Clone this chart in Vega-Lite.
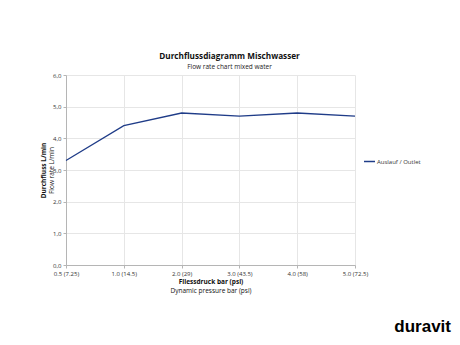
{
  "$schema": "https://vega.github.io/schema/vega-lite/v6.json",
  "background": "white",
  "padding": {"left": 40, "top": 52, "right": 10, "bottom": 8},
  "title": {"text": "duravit", "orient": "bottom", "anchor": "end", "font": "Liberation Sans", "fontSize": 17, "fontWeight": 900, "color": "#000000", "offset": 25, "dx": 30},
  "config": {
    "font": "Open Sans",
    "view": {"stroke": null},
    "axis": {"labelFont": "Open Sans", "titleFont": "Open Sans", "labelFontSize": 6, "titleFontSize": 6.5, "labelColor": "#333333", "titleColor": "#111111", "domainColor": "#b5b5b5", "tickColor": "#b5b5b5", "gridColor": "#e6e6e6", "tickSize": 3}
  },
  "vconcat": [
    {
      "width": 289,
      "height": 190,
      "title": {"text": "Durchflussdiagramm Mischwasser", "subtitle": "Flow rate chart mixed water", "frame": "group", "anchor": "middle", "dx": 19, "font": "Open Sans", "fontSize": 8.2, "fontWeight": "bold", "color": "#111111", "subtitleFont": "Open Sans", "subtitleFontSize": 6.5, "subtitleColor": "#222222", "subtitlePadding": 2, "offset": 1},
      "data": {"values": [
        {"p": "0.5 (7.25)", "v": 3.3},
        {"p": "1.0 (14.5)", "v": 4.4},
        {"p": "2.0 (29)", "v": 4.8},
        {"p": "3.0 (43.5)", "v": 4.7},
        {"p": "4.0 (58)", "v": 4.8},
        {"p": "5.0 (72.5)", "v": 4.7}
      ]},
      "layer": [
        {
          "mark": {"type": "line", "strokeWidth": 1.3},
          "encoding": {
            "x": {"field": "p", "type": "ordinal", "sort": null, "scale": {"type": "point", "padding": 0},
                  "axis": {"orient": "bottom", "title": "Fliessdruck bar (psi)", "titleFontWeight": "bold", "labelAngle": 0, "grid": true, "titlePadding": 2}},
            "y": {"field": "v", "type": "quantitative", "scale": {"domain": [0, 6]},
                  "axis": {"orient": "left", "title": "Durchfluss L/min", "titleFontWeight": "bold", "values": [0, 1, 2, 3, 4, 5, 6], "labelExpr": "replace(format(datum.value, '.1f'), '.', ',')", "grid": true, "titlePadding": 6}},
            "color": {"datum": "Auslauf / Outlet", "type": "nominal", "scale": {"range": ["#1f3c88"]},
                      "legend": {"orient": "none", "legendX": 297, "legendY": 80, "title": null, "symbolType": "stroke", "symbolStrokeWidth": 1.5, "symbolSize": 120, "labelFontSize": 6, "labelFont": "Open Sans", "labelColor": "#333333", "labelOffset": 1}}
          }
        },
        {
          "mark": {"type": "line", "opacity": 0},
          "encoding": {
            "x": {"field": "p", "type": "ordinal", "sort": null, "scale": {"type": "point", "padding": 0},
                  "axis": {"orient": "bottom", "title": "Dynamic pressure bar (psi)", "titleFontWeight": "normal", "labels": false, "ticks": false, "domain": false, "grid": false, "titlePadding": 22}},
            "y": {"field": "v", "type": "quantitative", "scale": {"domain": [0, 6]},
                  "axis": {"orient": "left", "title": "Flow rate L/min", "titleFontWeight": "normal", "labels": false, "ticks": false, "domain": false, "grid": false, "titlePadding": 12}}
          }
        }
      ],
      "resolve": {"scale": {"x": "independent", "y": "independent"}, "axis": {"x": "independent", "y": "independent"}}
    }
  ]
}
